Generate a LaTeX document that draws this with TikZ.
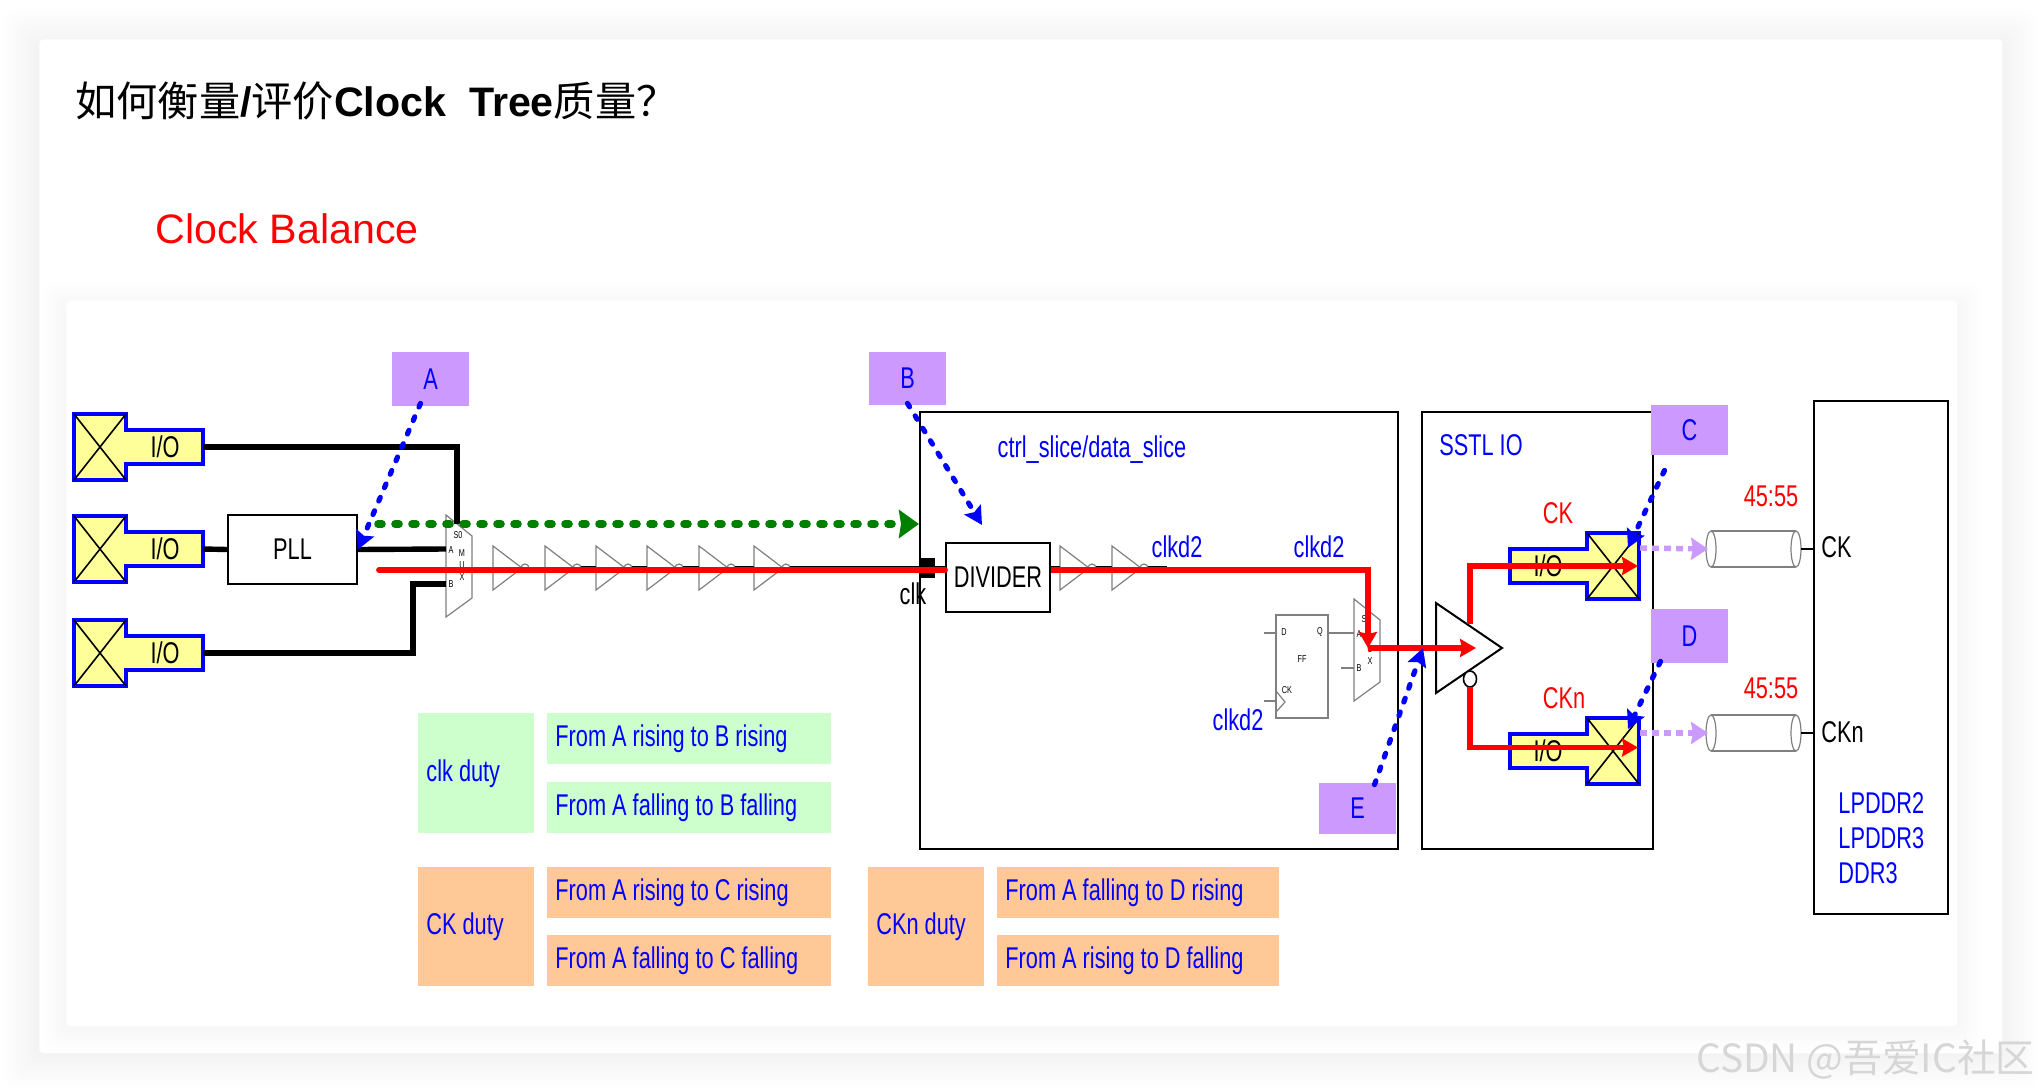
\documentclass[tikz,border=0pt]{standalone}
\usepackage{fontspec}
\setmainfont{Liberation Sans}
\newfontfamily\narrowf[FakeStretch=0.725]{Liberation Sans}
\newfontfamily\cjk{Noto Sans CJK SC}
\usetikzlibrary{arrows.meta,calc}
\definecolor{labpurple}{HTML}{CC99FF}
\definecolor{padyellow}{HTML}{FFFF99}
\definecolor{cellgreen}{HTML}{CCFFCC}
\definecolor{cellorange}{HTML}{FFC896}
\definecolor{lanegreen}{HTML}{007F00}
\newcommand{\dgfont}{\narrowf\fontsize{15}{17}\selectfont}
\newcommand{\tinyfont}{\narrowf\fontsize{5}{6}\selectfont}

\begin{document}
\begin{tikzpicture}[
  x=.5pt,y=-.5pt,
  sz/.style 2 args={minimum width=#1*.5pt,minimum height=#2*.5pt,inner sep=0pt},
  box/.style={draw,line width=1pt,fill=white,font=\dgfont},
  lab/.style={fill=labpurple,text=blue,font=\dgfont},
  cell/.style n args={3}{fill=#3,text=blue,font=\dgfont,anchor=north west,align=flush left,
    inner xsep=4pt,inner ysep=0pt,text width=#1*.5pt-8pt,minimum height=#2*.5pt},
  blu/.style={text=blue,font=\dgfont},
  rd/.style={text=red,font=\dgfont},
  blk/.style={text=black,font=\dgfont},
  flush/.style={anchor=west,inner sep=0pt},
  wire/.style={line width=2.7pt},
  thinwire/.style={line width=1.6pt},
  pin/.style={gray,line width=.6pt},
  redarr/.style={red,line width=2.9pt,-{Stealth[length=8pt,width=9pt,inset=1pt]}},
  redline/.style={red,line width=2.9pt},
  bluarr/.style={blue,line width=2.6pt,line cap=round,dash pattern=on 2pt off 5.3pt,
    -{Stealth[length=9pt,width=9.5pt,inset=1.5pt,line cap=butt]}},
  grnarr/.style={lanegreen,line width=3.8pt,line cap=round,dash pattern=on 2pt off 6.5pt,
    -{Stealth[length=10pt,width=14pt,inset=1pt,line cap=butt]}},
  purarr/.style={labpurple,line width=2.7pt,dash pattern=on 3.5pt off 2.5pt,
    -{Stealth[length=8.5pt,width=11pt,inset=1pt]}},
  iopad/.pic={
    \draw[blue,line width=1.8pt,fill=padyellow,line join=miter] (0,-33) -- (52,-33) -- (52,-17) -- (129,-17)
      -- (129,17) -- (52,17) -- (52,33) -- (0,33) -- cycle;
    \draw[line width=.8pt] (0,-33) -- (52,33) (0,33) -- (52,-33);
    \node[blk] (-io) at (91,0) {I/O};
    \coordinate (-out) at (129,0);
    \coordinate (-tail) at (1,0);
    \coordinate (-top) at (0,-33);
  },
  invgate/.pic={
    \draw[pin] (0,-22) -- (29,0) -- (0,22) -- cycle;
    \draw[pin,fill=white] (32,0) circle[radius=4];
    \coordinate (-in) at (0,0);
    \coordinate (-out) at (36,0);
  },
  muxgate/.pic={
    \draw[pin] (0,0) -- (26,21) -- (26,83) -- (0,102) -- cycle;
    \node[font=\tinyfont] (-ts) at (12,20) {S0};
    \node[font=\tinyfont] (-ta) at (5,35) {A};
    \node[font=\tinyfont] (-tb) at (5,69) {B};
    \node[font=\tinyfont] (-tm) at (16,38) {M};
    \node[font=\tinyfont] (-tu) at (16,50) {U};
    \node[font=\tinyfont] (-tx) at (16,62) {X};
    \coordinate (-sel) at (11,9);
    \coordinate (-a) at (0,34);
    \coordinate (-b) at (0,69);
  },
  tline/.pic={
    \draw[pin] (0,-18) -- (85,-18) (0,18) -- (85,18);
    \draw[pin,fill=white] (0,0) ellipse[x radius=5,y radius=18];
    \draw[pin,fill=white] (85,0) ellipse[x radius=5,y radius=18];
    \coordinate (-in) at (-3,0);
    \coordinate (-out) at (90,0);
  }
]
\useasboundingbox (0,0) rectangle (2040,1092);
% ---------- slide and card ----------
\foreach \s in {3,6,...,36}
  \fill[black,opacity=.0035,rounded corners=6pt] (39-\s,44-\s) rectangle (2002+\s,1053+\s);
\node[fill=white,rounded corners=2pt,sz={1963}{1014},anchor=north west] (slide) at (39,39) {};
\foreach \s in {3,6,...,24}
  \fill[black,opacity=.0035,rounded corners=6pt] (66-\s,306-\s) rectangle (1957+\s,1026+\s);
\node[fill=white,rounded corners=2pt,sz={1891}{726},anchor=north west] (card) at (66,300) {};
\node[anchor=west,font=\fontsize{20.6}{24}\selectfont,inner sep=0pt] (title) at (75,101)
  {{\cjk 如何衡量}\textbf{/}{\cjk 评价}\textbf{Clock~~Tree}{\cjk 质量？}};
\node[anchor=west,text=red,font=\fontsize{20.6}{24}\selectfont,inner sep=0pt] (subtitle) at (155,229) {Clock Balance};
\node[anchor=east,text=gray!32,font=\cjk\fontsize{19.4}{22}\selectfont,inner sep=0pt] (mark) at (2035,1059) {CSDN @吾爱IC社区};
% ---------- blocks ----------
\node[box,sz={478}{437}] (ctrl) at (1159,630.5) {};
\node[box,sz={231}{437}] (sstl) at (1537.5,630.5) {};
\node[box,sz={134}{513}] (ddr) at (1881,657.5) {};
\node[box,sz={129}{69}] (pll) at (292.5,549.5) {PLL};
\node[box,sz={104}{69}] (divider) at (998,577.5) {DIVIDER};
\node[fill=black,sz={15}{20}] (clkpin) at (927.5,568) {};
\node[blk] (clk) at (913,594) {clk};
% ---------- pads and gates ----------
\pic (padtop) at (74,447) {iopad};
\pic (padmid) at (74,549) {iopad};
\pic (padbot) at (74,653) {iopad};
\pic[xscale=-1] (padck) at (1639,566) {iopad};
\pic[xscale=-1] (padckn) at (1639,751) {iopad};
\pic (muxa) at (446,515) {muxgate};
\pic (muxb) at (1354,599) {muxgate};
\foreach \x [count=\i] in {493,545,596,647,699,754,1060,1112}
  \pic (inv\i) at (\x,568) {invgate};
% output buffer
\coordinate (bufw) at (1436,648);
\coordinate (buftip) at (1502,648);
\coordinate (bufup) at (1470,624);
\coordinate (bufdn) at (1470,687);
\draw[line width=1pt,fill=white] (1436,603) -- (buftip) -- (1436,693) -- cycle;
\draw[line width=.8pt,fill=white] (1470,679) ellipse[x radius=6.5,y radius=8];
% flip flop
\node[draw=gray,line width=.7pt,sz={52}{103}] (ff) at (1302,666.5) {};
\coordinate (ffd) at (1276,633);
\coordinate (ffq) at (1328,633);
\coordinate (ffck) at (1276,701);
\draw[pin] (1276,691) -- (1285,702) -- (1276,712);
\draw[pin] ($(ffd)+(-12,0)$) -- (ffd);
\draw[pin] ($(ffck)+(-12,0)$) -- (ffck);
\draw[pin] (ffq) -- (muxb-a);
\draw[pin] ($(muxb-b)+(-13,0)$) -- (muxb-b);
\node[font=\tinyfont] (ffdt) at (1284,632) {D};
\node[font=\tinyfont] (ffqt) at (1320,632) {Q};
\node[font=\tinyfont] (fft) at (1302,659) {FF};
\node[font=\tinyfont] (ffckt) at (1287,690) {CK};
% transmission lines
\pic (cyla) at (1711,549) {tline};
\pic (cylb) at (1711,733) {tline};
\draw[line width=.8pt] (cyla-out) -- (ddr.west |- cyla-out);
\draw[line width=.8pt] (cylb-out) -- (ddr.west |- cylb-out);
% ---------- black wires ----------
\draw[wire] (padtop-out) -| (muxa-sel);
\draw[wire] (padmid-out) -- (pll.west);
\draw[wire] (pll.east) -- (muxa-a);
\draw[wire] (padbot-out) -| ($(muxa-b)+(-33,0)$) -- (muxa-b);
\draw[thinwire] (inv2-out) -- (inv3-in);
\draw[thinwire] (inv3-out) -- (inv4-in);
\draw[thinwire] (inv4-out) -- (inv5-in);
\draw[thinwire] (inv5-out) -- (inv6-in);
\draw[thinwire] (inv6-out) -- (divider.west |- inv6-out);
\draw[thinwire] (divider.east |- inv7-in) -- (inv7-in);
\draw[thinwire] (inv7-out) -- (inv8-in);
\draw[thinwire] (inv8-out) -- ($(inv8-out)+(19,0)$);
% ---------- red clock path ----------
\coordinate (redstart) at (379,570);
\coordinate (muxout) at (1368,648);
\draw[redline,line cap=round] (redstart) -- (divider.west |- redstart);
\draw[redarr] (divider.east |- redstart) -| (muxout);
\draw[redarr] (muxout) -- ($(bufw)+(40,0)$);
\draw[redarr] (bufup) |- (padck-tail);
\draw[redarr] (bufdn) |- ($(padckn-tail)+(0,-3.5)$);
% ---------- texts ----------
\node[blu] (ctrlt) at (1092,450) {ctrl\_slice/data\_slice};
\node[blu] (clkta) at (1177,547) {clkd2};
\node[blu] (clktb) at (1319,547) {clkd2};
\node[blu] (clktc) at (1238,720) {clkd2};
\node[blu] (sstlt) at (1481,445) {SSTL IO};
\node[rd] (ckt) at (1558,513) {CK};
\node[rd] (cknt) at (1564,698) {CKn};
\node[rd] (ratioa) at (1771,496) {45:55};
\node[rd] (ratiob) at (1771,688) {45:55};
\node[blk,flush] (ddrck) at (1821,547) {CK};
\node[blk,flush] (ddrckn) at (1821,732) {CKn};
\node[blu,flush] (ddra) at (1838,803) {LPDDR2};
\node[blu,flush] (ddrb) at (1838,838) {LPDDR3};
\node[blu,flush] (ddrc) at (1838,873) {DDR3};
% ---------- measuring points ----------
\node[lab,sz={77}{54}] (laba) at (430.5,379) {A};
\node[lab,sz={77}{53}] (labb) at (907.5,378.5) {B};
\node[lab,sz={77}{50}] (labc) at (1689.5,430) {C};
\node[lab,sz={77}{54}] (labd) at (1689.5,636) {D};
\node[lab,sz={77}{51}] (labe) at (1357.5,808.5) {E};
\coordinate (greenstart) at (378,524);
\draw[grnarr] (greenstart) -- (ctrl.west |- greenstart);
\draw[bluarr] ($(laba.south)+(-10,-3)$) -- (pll.east);
\draw[bluarr] ($(labb.south)+(0,-2)$) -- ($(divider.north)+(-16,-17)$);
\draw[bluarr] ($(labc.south)+(-25,15)$) -- ($(padck-top)+(-11,15)$);
\draw[bluarr] ($(labd.south)+(-29,-2)$) -- ($(padckn-top)+(-11,11)$);
\draw[bluarr] ($(labe.north)+(17,2)$) -- ($(bufw)+(-13,0)$);
\draw[purarr] ($(padck-tail)+(2,-18)$) -- (cyla-in);
\draw[purarr] ($(padckn-tail)+(2,-18)$) -- (cylb-in);
% ---------- duty tables ----------
\node[cell={116}{120}{cellgreen}] (clkduty) at (418,713) {clk duty};
\node[cell={284}{51}{cellgreen}] (clkr) at (547,713) {From A rising to B rising};
\node[cell={284}{51}{cellgreen}] (clkf) at (547,782) {From A falling to B falling};
\node[cell={116}{119}{cellorange}] (ckduty) at (418,867) {CK duty};
\node[cell={284}{51}{cellorange}] (ckr) at (547,867) {From A rising to C rising};
\node[cell={284}{51}{cellorange}] (ckf) at (547,935) {From A falling to C falling};
\node[cell={116}{119}{cellorange}] (cknduty) at (868,867) {CKn duty};
\node[cell={282}{51}{cellorange}] (cknr) at (997,867) {From A falling to D rising};
\node[cell={282}{51}{cellorange}] (cknf) at (997,935) {From A rising to D falling};
\end{tikzpicture}
\end{document}
